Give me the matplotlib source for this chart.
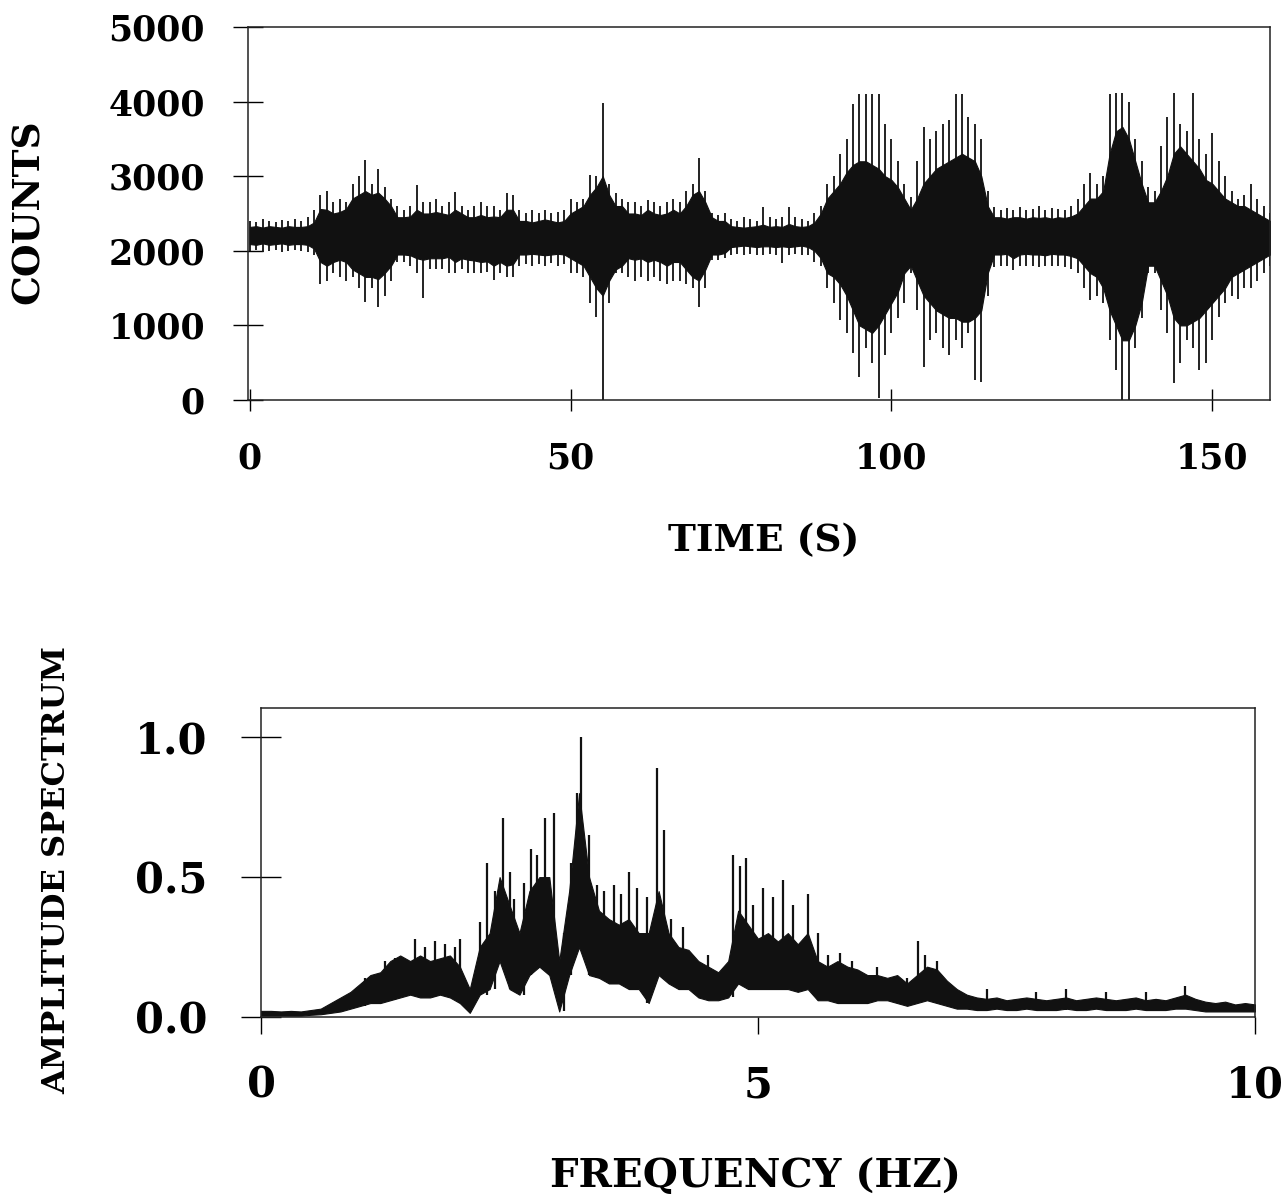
import numpy as np
import matplotlib
matplotlib.use("Agg")
import matplotlib.pyplot as plt

# ---- seismogram, read per second off the scan (counts) ----
seconds = np.arange(160)

core_hi = [2320, 2330, 2310, 2330, 2320, 2310, 2330, 2320, 2320, 2330,
           2380, 2560, 2550, 2500, 2520, 2560, 2700, 2750, 2800, 2750,
           2780, 2700, 2600, 2450, 2450, 2460, 2550, 2500, 2500, 2520,
           2500, 2480, 2550, 2500, 2450, 2450, 2480, 2450, 2460, 2450,
           2550, 2550, 2400, 2400, 2380, 2400, 2420, 2400, 2380, 2400,
           2500, 2550, 2600, 2750, 2850, 3000, 2750, 2600, 2600, 2500,
           2500, 2480, 2550, 2500, 2480, 2500, 2550, 2500, 2600, 2750,
           2800, 2650, 2450, 2400, 2400, 2330, 2320, 2310, 2320, 2330,
           2350, 2320, 2330, 2320, 2360, 2330, 2320, 2330, 2380, 2500,
           2700, 2800, 2900, 3050, 3150, 3200, 3200, 3150, 3100, 3000,
           2950, 2850, 2700, 2550, 2700, 2900, 3000, 3100, 3150, 3200,
           3250, 3300, 3250, 3200, 3000, 2600, 2450, 2450, 2430, 2450,
           2450, 2430, 2450, 2440, 2450, 2430, 2450, 2440, 2460, 2500,
           2600, 2700, 2700, 2800, 3300, 3600, 3660, 3500, 3200, 2900,
           2650, 2650, 2800, 3000, 3300, 3400, 3300, 3200, 3100, 2950,
           2900, 2800, 2700, 2650, 2600, 2600, 2550, 2500, 2450, 2400]

core_lo = [2090, 2080, 2100, 2080, 2090, 2100, 2080, 2090, 2090, 2080,
           2030, 1850, 1800, 1850, 1880, 1850, 1750, 1700, 1650, 1650,
           1620, 1700, 1800, 1950, 1950, 1940, 1900, 1880, 1900, 1900,
           1900, 1920, 1850, 1900, 1880, 1870, 1850, 1860, 1800, 1850,
           1800, 1820, 1950, 1950, 1960, 1950, 1940, 1950, 1960, 1950,
           1900, 1850, 1800, 1650, 1500, 1400, 1600, 1750, 1800, 1900,
           1880, 1900, 1850, 1880, 1850, 1800, 1850, 1850, 1750, 1650,
           1600, 1750, 1950, 1950, 1970, 2050, 2060, 2070, 2060, 2050,
           2060, 2060, 2050, 2060, 2050, 2060, 2070, 2050, 2000, 1900,
           1700, 1650, 1550, 1400, 1200, 1000, 950, 900, 1000, 1150,
           1300, 1450, 1700, 1800, 1600, 1400, 1300, 1200, 1150, 1100,
           1100, 1050, 1050, 1100, 1200, 1700, 1950, 1950, 1960, 1900,
           1950, 1960, 1950, 1950, 1940, 1960, 1950, 1950, 1930, 1900,
           1800, 1700, 1650, 1500, 1200, 1000, 800, 800, 1000, 1300,
           1800, 1800, 1600, 1400, 1100, 1000, 1000, 1050, 1100, 1200,
           1300, 1400, 1500, 1650, 1700, 1750, 1800, 1850, 1900, 1950]

peak_hi = [2400, 2380, 2420, 2400, 2390, 2410, 2400, 2420, 2400, 2450,
           2550, 2750, 2800, 2650, 2700, 2650, 2900, 3000, 3220, 2900,
           3100, 2850, 2700, 2600, 2550, 2600, 2880, 2650, 2650, 2700,
           2600, 2650, 2790, 2600, 2550, 2600, 2650, 2600, 2600, 2550,
           2770, 2750, 2550, 2500, 2550, 2500, 2550, 2500, 2520, 2550,
           2700, 2650, 2700, 3010, 3000, 3980, 2900, 2770, 2700, 2650,
           2650, 2600, 2680, 2650, 2600, 2650, 2700, 2650, 2800, 2900,
           3240, 2800, 2500, 2480, 2500, 2420, 2400, 2450, 2420, 2400,
           2590, 2450, 2420, 2450, 2590, 2450, 2420, 2400, 2500, 2600,
           2900, 3000, 3300, 3500, 3970, 4100, 4100, 4100, 4100, 3700,
           3500, 3200, 2900, 2720, 3200, 3660, 3500, 3600, 3700, 3750,
           4100, 4100, 3800, 3700, 3500, 2800, 2590, 2550, 2580, 2550,
           2590, 2550, 2560, 2600, 2550, 2580, 2560, 2550, 2600, 2700,
           2900, 3040, 2900, 3000, 4100, 4120, 4120, 4000, 3500, 3200,
           2860, 2800, 3400, 3790, 4110, 3700, 3600, 4110, 3500, 3300,
           3580, 3200, 3000, 2800, 2700, 2750, 2900, 2700, 2600, 2500]

peak_lo = [2000, 2010, 1990, 2000, 2010, 1990, 2000, 2010, 2000, 1980,
           1950, 1550, 1600, 1700, 1650, 1600, 1650, 1500, 1320, 1500,
           1250, 1400, 1600, 1850, 1850, 1800, 1700, 1370, 1750, 1750,
           1750, 1700, 1700, 1750, 1700, 1700, 1700, 1720, 1610, 1700,
           1650, 1650, 1800, 1820, 1800, 1820, 1800, 1830, 1800, 1820,
           1700, 1700, 1650, 1300, 1110, 0, 1300, 1700, 1700, 1650,
           1600, 1650, 1600, 1650, 1600, 1550, 1600, 1600, 1550, 1500,
           1250, 1500, 1880, 1880, 1900, 1950, 1960, 1950, 1960, 1950,
           1950, 1960, 1950, 1830, 1950, 1960, 1950, 1950, 1850, 1800,
           1500, 1300, 1070, 900, 630, 310, 700, 500, 20, 600,
           900, 1100, 1300, 1700, 1200, 440, 800, 900, 700, 600,
           800, 700, 900, 270, 240, 1400, 1780, 1800, 1790, 1740,
           1800, 1790, 1800, 1780, 1800, 1790, 1800, 1780, 1750, 1700,
           1500, 1340, 1400, 1300, 800, 400, 0, 0, 700, 1100,
           1700, 1700, 1200, 900, 230, 500, 800, 700, 400, 500,
           800, 1110, 1300, 1400, 1350, 1500, 1500, 1600, 1700, 1800]

# ---- amplitude spectrum, every 0.1 Hz ----
freq = np.round(np.arange(0, 101) * 0.1, 1)

spec_hi = [0.022, 0.022, 0.020, 0.022, 0.020, 0.025, 0.030, 0.050, 0.070, 0.090,
           0.120, 0.150, 0.160, 0.200, 0.220, 0.200, 0.220, 0.200, 0.210, 0.220,
           0.180, 0.100, 0.250, 0.300, 0.500, 0.400, 0.300, 0.450, 0.500, 0.500,
           0.200, 0.450, 0.800, 0.500, 0.380, 0.350, 0.330, 0.350, 0.300, 0.300,
           0.450, 0.300, 0.250, 0.240, 0.200, 0.180, 0.160, 0.200, 0.380, 0.330,
           0.280, 0.300, 0.270, 0.300, 0.260, 0.300, 0.200, 0.180, 0.200, 0.180,
           0.170, 0.150, 0.150, 0.140, 0.150, 0.120, 0.150, 0.180, 0.170, 0.130,
           0.100, 0.080, 0.070, 0.065, 0.070, 0.060, 0.065, 0.070, 0.065, 0.060,
           0.065, 0.070, 0.060, 0.065, 0.070, 0.065, 0.060, 0.065, 0.070, 0.060,
           0.065, 0.060, 0.070, 0.080, 0.065, 0.055, 0.050, 0.055, 0.045, 0.050,
           0.045]

spec_lo = [0.005, 0.005, 0.005, 0.005, 0.005, 0.008, 0.010, 0.015, 0.020, 0.030,
           0.040, 0.050, 0.050, 0.060, 0.070, 0.080, 0.070, 0.070, 0.080, 0.070,
           0.050, 0.015, 0.080, 0.100, 0.200, 0.100, 0.080, 0.150, 0.180, 0.150,
           0.020, 0.150, 0.250, 0.150, 0.140, 0.120, 0.120, 0.100, 0.100, 0.050,
           0.150, 0.120, 0.100, 0.100, 0.070, 0.060, 0.060, 0.070, 0.120, 0.100,
           0.100, 0.100, 0.100, 0.100, 0.090, 0.100, 0.060, 0.060, 0.050, 0.050,
           0.050, 0.050, 0.060, 0.060, 0.050, 0.040, 0.050, 0.060, 0.050, 0.040,
           0.030, 0.030, 0.025, 0.025, 0.030, 0.025, 0.025, 0.030, 0.025, 0.025,
           0.025, 0.030, 0.025, 0.025, 0.030, 0.025, 0.025, 0.025, 0.030, 0.025,
           0.025, 0.025, 0.030, 0.030, 0.025, 0.020, 0.020, 0.020, 0.020, 0.020,
           0.020]

# narrow spectral lines sticking out of the band
spike_f = [1.05, 1.25, 1.35, 1.55, 1.65, 1.75, 1.85, 1.95, 2.0, 2.2, 2.27, 2.35,
           2.43, 2.5, 2.55, 2.65, 2.72, 2.78, 2.86, 2.95, 3.05, 3.12, 3.18, 3.22,
           3.3, 3.38, 3.45, 3.55, 3.62, 3.7, 3.78, 3.88, 3.98, 4.05, 4.12, 4.25,
           4.5, 4.75, 4.82, 4.88, 4.95, 5.05, 5.15, 5.25, 5.35, 5.5, 5.6, 5.7,
           5.82, 5.95, 6.2, 6.5, 6.61, 6.68, 6.8, 7.3, 7.8, 8.1, 8.5, 8.9, 9.3]
spike_top = [0.14, 0.20, 0.21, 0.28, 0.25, 0.27, 0.26, 0.25, 0.28, 0.34, 0.55, 0.45,
             0.71, 0.52, 0.42, 0.48, 0.60, 0.58, 0.71, 0.73, 0.30, 0.55, 0.80, 1.00,
             0.65, 0.47, 0.45, 0.47, 0.44, 0.52, 0.46, 0.43, 0.89, 0.67, 0.35, 0.32,
             0.22, 0.58, 0.54, 0.57, 0.40, 0.46, 0.43, 0.49, 0.40, 0.44, 0.30, 0.22,
             0.23, 0.20, 0.18, 0.14, 0.27, 0.22, 0.20, 0.10, 0.09, 0.10, 0.09, 0.09, 0.11]
spike_base = [0.04, 0.06, 0.06, 0.08, 0.07, 0.07, 0.08, 0.07, 0.05, 0.08, 0.08, 0.10,
              0.20, 0.10, 0.10, 0.08, 0.15, 0.18, 0.18, 0.15, 0.02, 0.15, 0.25, 0.25,
              0.15, 0.14, 0.14, 0.12, 0.12, 0.10, 0.10, 0.05, 0.15, 0.15, 0.12, 0.10,
              0.06, 0.07, 0.12, 0.12, 0.10, 0.10, 0.10, 0.10, 0.10, 0.10, 0.06, 0.06,
              0.05, 0.05, 0.06, 0.04, 0.05, 0.06, 0.05, 0.025, 0.025, 0.025, 0.025, 0.025, 0.03]

serif = "DejaVu Serif"
ink = "#111111"

fig = plt.figure(figsize=(12.84, 11.94), dpi=100)

# top panel: counts vs time
ax1 = fig.add_axes([0.1931, 0.6650, 0.7960, 0.3124])
ax1.fill_between(seconds, core_lo, core_hi, color=ink, lw=0.8)
ax1.vlines(seconds, peak_lo, peak_hi, color=ink, lw=1.3)
ax1.set_xlim(-0.3, 159)
ax1.set_ylim(0, 5000)
ax1.set_xticks([0, 50, 100, 150])
ax1.set_yticks([0, 1000, 2000, 3000, 4000, 5000])
ax1.tick_params(axis="y", direction="inout", length=22, width=1.0, pad=20)
ax1.tick_params(axis="x", direction="inout", length=16, width=1.0, pad=22)
for lab in ax1.get_xticklabels() + ax1.get_yticklabels():
    lab.set_fontfamily(serif)
    lab.set_fontweight("bold")
    lab.set_fontsize(25)

# bottom panel: amplitude spectrum
ax2 = fig.add_axes([0.2033, 0.1482, 0.7741, 0.2588])
ax2.fill_between(freq, spec_lo, spec_hi, color=ink, lw=0.8)
ax2.vlines(spike_f, spike_base, spike_top, color=ink, lw=1.6)
ax2.set_xlim(0, 10)
ax2.set_ylim(0, 1.104)
ax2.set_xticks([0, 5, 10])
ax2.set_yticks([0.0, 0.5, 1.0])
ax2.set_yticklabels(["0.0", "0.5", "1.0"])
ax2.tick_params(axis="y", direction="inout", length=29, width=1.0, pad=24)
ax2.tick_params(axis="x", direction="out", length=12, width=1.0, pad=22)
for lab in ax2.get_xticklabels() + ax2.get_yticklabels():
    lab.set_fontfamily(serif)
    lab.set_fontweight("bold")
    lab.set_fontsize(30)

for ax in (ax1, ax2):
    for sp in ax.spines.values():
        sp.set_linewidth(1.1)
        sp.set_color("#222222")

# axis titles placed as in the scan
fig.text(28 / 1284, 1 - 212 / 1194, "COUNTS", rotation=90, ha="center", va="center",
         family=serif, weight="bold", fontsize=27)
fig.text(764 / 1284, 1 - 541 / 1194, "TIME (S)", ha="center", va="center",
         family=serif, weight="bold", fontsize=27)
fig.text(57 / 1284, 1 - 870 / 1194, "AMPLITUDE SPECTRUM", rotation=90, ha="center",
         va="center", family=serif, weight="bold", fontsize=23)
fig.text(756 / 1284, 1 - 1176 / 1194, "FREQUENCY (HZ)", ha="center", va="center",
         family=serif, weight="bold", fontsize=29)

fig.savefig("out.png", dpi=100, facecolor="white")
